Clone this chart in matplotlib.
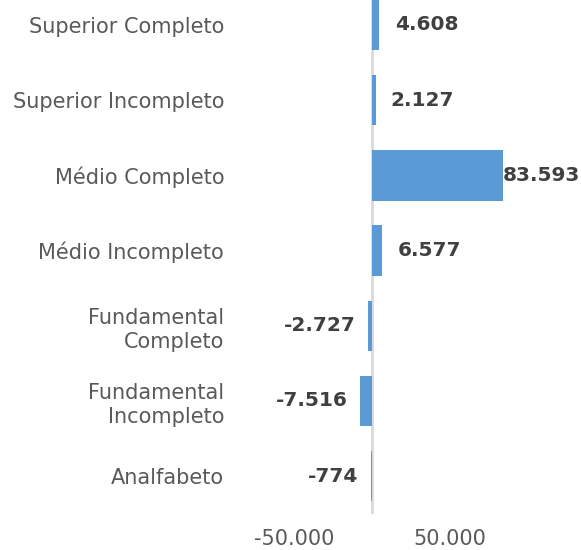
import matplotlib
import matplotlib.pyplot as plt

matplotlib.use("Agg")

categories = [
    "Analfabeto",
    "Fundamental\nIncompleto",
    "Fundamental\nCompleto",
    "Médio Incompleto",
    "Médio Completo",
    "Superior Incompleto",
    "Superior Completo",
]
values = [-774, -7516, -2727, 6577, 83593, 2127, 4608]
value_labels = ["-774", "-7.516", "-2.727", "6.577", "83.593", "2.127", "4.608"]
x_ticks = [-50000, 50000]
x_tick_labels = ["-50.000", "50.000"]

plt.rcParams["font.family"] = ["DejaVu Sans"]

fig = plt.figure(figsize=(5.81, 5.5), dpi=100)
ax = fig.add_axes([0.405, 0.066, 0.504, 0.957])

y = list(range(len(categories)))
ax.barh(y, values, height=0.67, color="#5b9bd5", zorder=2)
ax.axvline(0, color="#d9d9d9", linewidth=2, zorder=1)

ax.set_xlim(-87800, 100000)
ax.set_ylim(-0.5, len(categories) - 0.5)

ax.set_yticks(y)
ax.set_yticklabels(categories, fontsize=15, color="#595959", ha="right",
                   linespacing=1.25)
ax.set_xticks(x_ticks)
ax.set_xticklabels(x_tick_labels, fontsize=15, color="#595959")
ax.tick_params(axis="y", length=0, pad=8)
ax.tick_params(axis="x", length=0, pad=11)
for side in ax.spines.values():
    side.set_visible(False)

# data labels, Excel style (outside end)
max_val = max(values)
for yi, v, lab in zip(y, values, value_labels):
    if v >= 0:
        off = 0 if v > 0.9 * max_val else 11
        ax.annotate(lab, (v, yi), xytext=(off, 0), textcoords="offset points",
                    ha="left", va="center", fontsize=14.5, fontweight="bold",
                    color="#404040", annotation_clip=False)
    else:
        ax.annotate(lab, (v, yi), xytext=(-9, 0), textcoords="offset points",
                    ha="right", va="center", fontsize=14.5, fontweight="bold",
                    color="#404040", annotation_clip=False)

fig.savefig("out.png", dpi=100)
